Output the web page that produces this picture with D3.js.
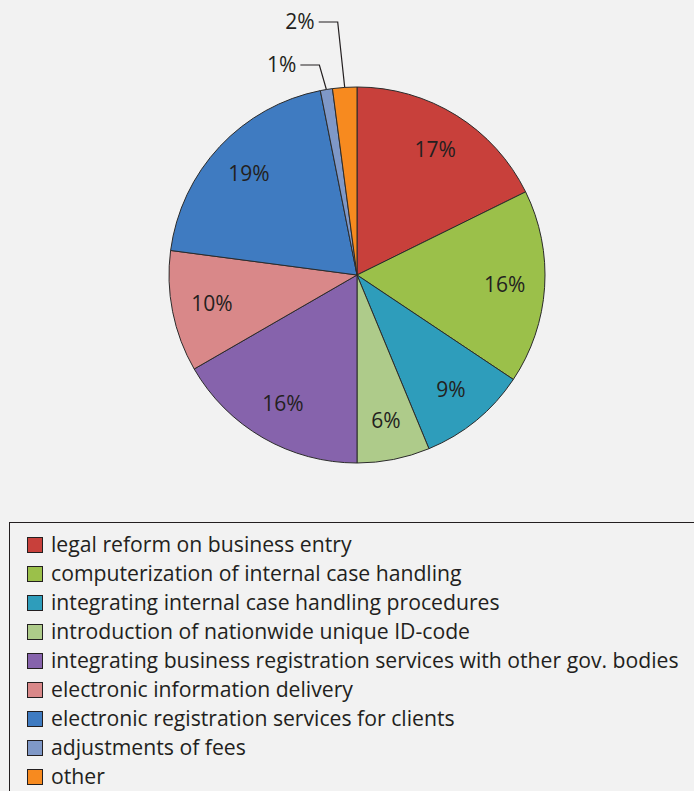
<!DOCTYPE html>
<html>
<head>
<meta charset="utf-8">
<script src="https://cdn.jsdelivr.net/npm/d3@7"></script>
<style>
  body { margin: 0; background: #f2f2f2; }
  svg { display: block; font-family: "Open Sans", "Noto Sans", sans-serif; }
</style>
</head>
<body>
<script>
// data
const categories = [
  "legal reform on business entry",
  "computerization of internal case handling",
  "integrating internal case handling procedures",
  "introduction of nationwide unique ID-code",
  "integrating business registration services with other gov. bodies",
  "electronic information delivery",
  "electronic registration services for clients",
  "adjustments of fees",
  "other"
];
const values = [17, 16, 9, 6, 16, 10, 19, 1, 2];
const colors = ["#c8403b", "#9bc04a", "#2e9dbb", "#aecb8a", "#8663ac", "#d98889", "#3f7bc1", "#7f98c7", "#f78a1f"];

const width = 694, height = 791,
      cx = 357, cy = 275, radius = 188;

const svg = d3.select("body").append("svg")
  .attr("width", width)
  .attr("height", height);

const pie = d3.pie().sort(null).value(d => d)(values);
const arc = d3.arc().innerRadius(0).outerRadius(radius);
const labelArc = d3.arc().innerRadius(148).outerRadius(148);

const g = svg.append("g").attr("transform", `translate(${cx},${cy})`);

g.selectAll("path")
  .data(pie)
  .enter()
  .append("path")
  .attr("d", arc)
  .attr("fill", (d, i) => colors[i])
  .attr("stroke", "#2b2b2b")
  .attr("stroke-width", 1);

// inside labels for bigger slices
g.selectAll(".lbl")
  .data(pie.filter(d => d.value >= 5))
  .enter()
  .append("text")
  .attr("class", "lbl")
  .attr("transform", d => `translate(${labelArc.centroid(d)})`)
  .attr("text-anchor", "middle")
  .attr("dy", "0.35em")
  .attr("font-size", 21)
  .attr("fill", "#231f20")
  .text(d => d.value + "%");

// callouts for tiny slices
const small = pie.filter(d => d.value < 5);
small.forEach((d, k) => {
  const mid = (d.startAngle + d.endAngle) / 2;
  const ex = Math.sin(mid) * radius, ey = -Math.cos(mid) * radius;
  const ly = -210 - k * 43;          // elbow height
  const hx = ex - 7;                 // horizontal run start
  g.append("polyline")
    .attr("points", [[ex, ey], [hx, ly], [hx - 19, ly]].map(p => p.join(",")).join(" "))
    .attr("fill", "none")
    .attr("stroke", "#231f20")
    .attr("stroke-width", 1.2);
  g.append("text")
    .attr("x", hx - 23)
    .attr("y", ly)
    .attr("dy", "0.35em")
    .attr("text-anchor", "end")
    .attr("font-size", 21)
    .attr("fill", "#231f20")
    .text(d.value + "%");
});

// legend
const legend = svg.append("g");
legend.append("rect")
  .attr("x", 9.5).attr("y", 522.5)
  .attr("width", 700).attr("height", 300)
  .attr("fill", "#f2f2f2")
  .attr("stroke", "#231f20")
  .attr("stroke-width", 1);

const rowY = d3.scalePoint().domain(categories).range([545, 777]);

const item = legend.selectAll(".item")
  .data(categories)
  .enter()
  .append("g")
  .attr("transform", d => `translate(0,${rowY(d)})`);

item.append("rect")
  .attr("x", 27.5).attr("y", -7.5)
  .attr("width", 15).attr("height", 15)
  .attr("fill", (d, i) => colors[i])
  .attr("stroke", "#231f20")
  .attr("stroke-width", 1);

item.append("text")
  .attr("x", 51)
  .attr("dy", "0.35em")
  .attr("font-size", 21.2)
  .attr("fill", "#231f20")
  .text(d => d);
</script>
</body>
</html>
